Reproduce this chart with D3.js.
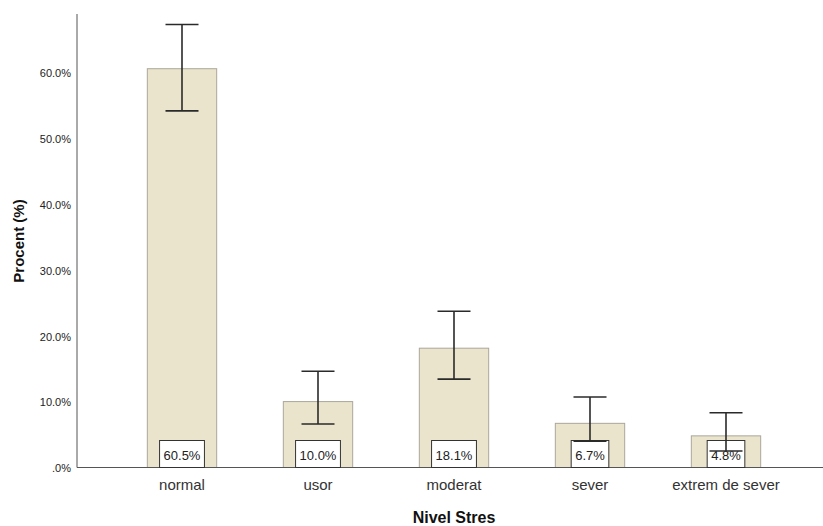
<!DOCTYPE html>
<html lang="ro">
<head>
    <meta charset="UTF-8">
    <title>Nivel Stres</title>
    <script src="https://d3js.org/d3.v7.min.js"></script>
    <style>
        body { margin: 0; background: #fff; }
        svg { display: block; font-family: "Liberation Sans", Arial, sans-serif; }
        .tick text { font-size: 11px; fill: #222; }
        .cat-label { font-size: 15px; fill: #333; text-anchor: middle; }
        .axis-title { font-size: 15px; font-weight: bold; fill: #111; text-anchor: middle; }
        .val-label { font-size: 13px; fill: #222; text-anchor: middle; }
    </style>
</head>
<body>
    <svg width="823" height="526"></svg>
    <script>
        const width = 823, height = 526;

        const categories = ["normal", "usor", "moderat", "sever", "extrem de sever"];
        const percents = [60.5, 10.0, 18.1, 6.7, 4.8];
        const ciLow = [54.1, 6.6, 13.4, 4.0, 2.5];
        const ciHigh = [67.2, 14.6, 23.7, 10.7, 8.3];
        const yTicks = [0, 10, 20, 30, 40, 50, 60];

        const data = categories.map((c, i) => ({
            cat: c, value: percents[i], lo: ciLow[i], hi: ciHigh[i]
        }));

        const svg = d3.select("svg");

        const axisX0 = 77, baseY = 467.5, axisTop = 14;

        const x = d3.scaleBand()
            .domain(categories)
            .range([114, 794])
            .paddingInner(0.49)
            .paddingOuter(0.245);

        const y = d3.scaleLinear()
            .domain([0, 68.8])
            .range([baseY, axisTop]);

        // y axis
        const yAxis = d3.axisLeft(y)
            .tickValues(yTicks)
            .tickSize(0)
            .tickPadding(6)
            .tickFormat(d => d === 0 ? ".0%" : d.toFixed(1) + "%");

        const gy = svg.append("g")
            .attr("transform", `translate(${axisX0},0)`)
            .call(yAxis);
        gy.select(".domain").remove();
        gy.selectAll(".tick text").attr("dy", "0.4em");

        svg.append("line")
            .attr("x1", axisX0).attr("x2", axisX0)
            .attr("y1", axisTop).attr("y2", baseY)
            .attr("stroke", "#555").attr("stroke-width", 1);

        // bars
        svg.append("g").selectAll("rect")
            .data(data)
            .enter().append("rect")
            .attr("x", d => x(d.cat))
            .attr("y", d => y(d.value))
            .attr("width", x.bandwidth())
            .attr("height", d => baseY - y(d.value))
            .attr("fill", "#eae4cd")
            .attr("stroke", "#aaa69a")
            .attr("stroke-width", 1);

        // x axis line
        svg.append("line")
            .attr("x1", axisX0).attr("x2", width)
            .attr("y1", baseY).attr("y2", baseY)
            .attr("stroke", "#555").attr("stroke-width", 1.2);

        // value boxes
        const labels = svg.append("g").selectAll("g")
            .data(data)
            .enter().append("g");

        labels.append("rect").attr("class", "box");
        labels.append("text")
            .attr("class", "val-label")
            .attr("x", d => x(d.cat) + x.bandwidth() / 2)
            .attr("y", baseY - 8)
            .text(d => d.value.toFixed(1) + "%");

        labels.each(function (d) {
            const g = d3.select(this);
            const w = g.select("text").node().getComputedTextLength() + 8;
            const cx = x(d.cat) + x.bandwidth() / 2;
            g.select("rect")
                .attr("x", cx - w / 2)
                .attr("y", baseY - 27)
                .attr("width", w)
                .attr("height", 27)
                .attr("fill", "#fff")
                .attr("stroke", "#333")
                .attr("stroke-width", 1);
        });

        // error bars
        const capW = 33;
        const err = svg.append("g").selectAll("g")
            .data(data)
            .enter().append("g")
            .attr("stroke", "#2a2a2a")
            .attr("stroke-width", 1.6);

        err.append("line")
            .attr("x1", d => x(d.cat) + x.bandwidth() / 2)
            .attr("x2", d => x(d.cat) + x.bandwidth() / 2)
            .attr("y1", d => y(d.hi))
            .attr("y2", d => y(d.lo));
        err.append("line")
            .attr("x1", d => x(d.cat) + x.bandwidth() / 2 - capW / 2)
            .attr("x2", d => x(d.cat) + x.bandwidth() / 2 + capW / 2)
            .attr("y1", d => y(d.hi))
            .attr("y2", d => y(d.hi));
        err.append("line")
            .attr("x1", d => x(d.cat) + x.bandwidth() / 2 - capW / 2)
            .attr("x2", d => x(d.cat) + x.bandwidth() / 2 + capW / 2)
            .attr("y1", d => y(d.lo))
            .attr("y2", d => y(d.lo));

        // category labels
        svg.append("g").selectAll("text")
            .data(categories)
            .enter().append("text")
            .attr("class", "cat-label")
            .attr("x", d => x(d) + x.bandwidth() / 2)
            .attr("y", 490)
            .text(d => d);

        // axis titles
        svg.append("text")
            .attr("class", "axis-title")
            .attr("x", 454)
            .attr("y", 523)
            .style("font-size", "16px")
            .text("Nivel Stres");

        svg.append("text")
            .attr("class", "axis-title")
            .attr("transform", "translate(24,241) rotate(-90)")
            .text("Procent (%)");
    </script>
</body>
</html>
